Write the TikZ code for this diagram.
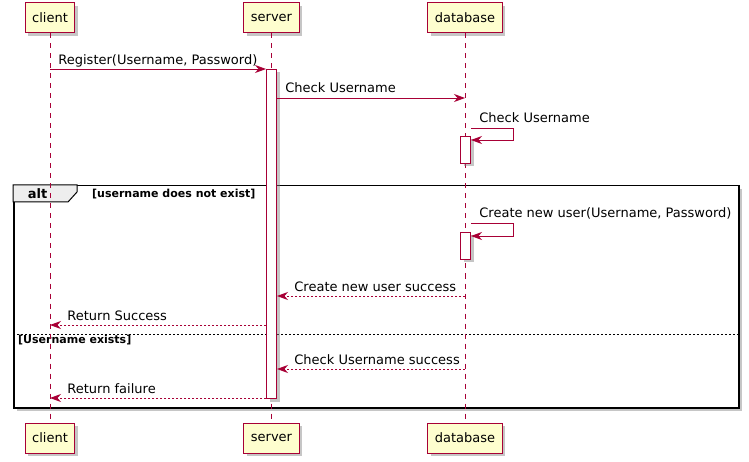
\documentclass[tikz,border=0pt]{standalone}
\usepackage{fontspec}
\setmainfont{DejaVu Sans}
\usetikzlibrary{arrows.meta}
\usetikzlibrary{positioning}
\usetikzlibrary{shadows}
\definecolor{umlred}{HTML}{A80036}
\definecolor{umlyellow}{HTML}{FEFECE}
\definecolor{umlgray}{HTML}{EEEEEE}
\tikzset{basic box/.style={draw=umlred,
                           line width=1pt,
                           drop shadow={shadow xshift=3pt,shadow yshift=-3pt,opacity=0.45}}}
\tikzset{participant/.style={basic box,fill=umlyellow,minimum height=30pt,inner xsep=7pt,
                             font=\fontsize{13}{15}\selectfont}}
\tikzset{activation/.style={basic box,fill=white,minimum width=10pt,inner sep=0pt,anchor=north}}
\tikzset{lifeline/.style={draw=umlred,line width=0.8pt,dash pattern=on 5pt off 5pt}}
\tikzset{msg/.style={draw=umlred,line width=0.8pt,-{Stealth[length=11pt,width=8pt,inset=3.5pt]}}}
\tikzset{reply/.style={msg,dash pattern=on 2pt off 2pt}}
\newcommand{\msgfont}{\fontsize{13}{15}\selectfont}
\newcommand{\guardfont}{\fontsize{11}{13}\selectfont\bfseries}

\begin{document}
\begin{tikzpicture}
  [
    x=1pt,
    y=-1pt,
    lbl/.style={anchor=base west,font=\msgfont,inner sep=0pt},
  ]
    \useasboundingbox (0,0) rectangle (749,462);

    % participants
    \foreach \n/\x in {client/50,server/271.5,database/465}
    {
    \node [participant] (\n) at (\x,18) {\n};
    \node [participant] (\n-b) at (\x,438) {\n};
    }

    % alt frame
    \node [draw,line width=1.5pt,fill=white,inner sep=0pt,anchor=north west,
           minimum width=725pt,minimum height=222pt,
           drop shadow={shadow xshift=3pt,shadow yshift=-3pt,opacity=0.45}] (alt) at (13,185) {};
    \draw [fill=umlgray,line width=1pt] (alt.north west) -- ++(64,0) -- ++(0,7) -- ++(-9,10) -- ++(-55,0) -- cycle;
    \node [anchor=base,inner sep=0pt,font=\fontsize{13}{15}\selectfont\bfseries] (alt-label) at (37.5,199) {alt};
    \node [lbl,font=\guardfont] (guard-1) at (92,197.5) {[username does not exist]};
    \draw [line width=0.8pt,dash pattern=on 2pt off 2pt] (alt.west |- 0,334) -- (alt.east |- 0,334);
    \node [lbl,font=\guardfont] (guard-2) at (18,343.5) {[Username exists]};

    % lifelines
    \foreach \n in {client,server,database}
      \draw [lifeline] (\n.south) -- (\n-b.north);

    % activations
    \node [activation,minimum height=329pt] (act-s) at (271.5,69) {};
    \node [activation,minimum height=27pt] (act-d1) at (465.5,136) {};
    \node [activation,minimum height=27pt] (act-d2) at (465.5,232) {};

    % messages
    \draw [msg] (client |- 0,69) -- (act-s.west |- 0,69)
      node [lbl,at start,xshift=8pt,yshift=4pt] {Register(Username, Password)};
    \draw [msg] (act-s.east |- 0,98) -- (database |- 0,98)
      node [lbl,at start,xshift=8pt,yshift=5pt] {Check Username};
    \draw [msg] (act-d1.east |- 0,128) node [lbl,xshift=8pt,yshift=5pt] {Check Username}
      -- ++(42,0) -- ++(0,12) -- (act-d1.east |- 0,140);
    \draw [msg] (act-d2.east |- 0,223) node [lbl,xshift=8pt,yshift=5pt] {Create new user(Username, Password)}
      -- ++(42,0) -- ++(0,13) -- (act-d2.east |- 0,236);

    % replies
    \draw [reply] (database |- 0,296) -- (act-s.east |- 0,296)
      node [lbl,at end,xshift=17pt,yshift=5pt] {Create new user success};
    \draw [reply] (act-s.west |- 0,325) -- (client |- 0,325)
      node [lbl,at end,xshift=17pt,yshift=5pt] {Return Success};
    \draw [reply] (database |- 0,369) -- (act-s.east |- 0,369)
      node [lbl,at end,xshift=17pt,yshift=5pt] {Check Username success};
    \draw [reply] (act-s.west |- 0,398) -- (client |- 0,398)
      node [lbl,at end,xshift=17pt,yshift=5pt] {Return failure};

  \end{tikzpicture}
\end{document}
